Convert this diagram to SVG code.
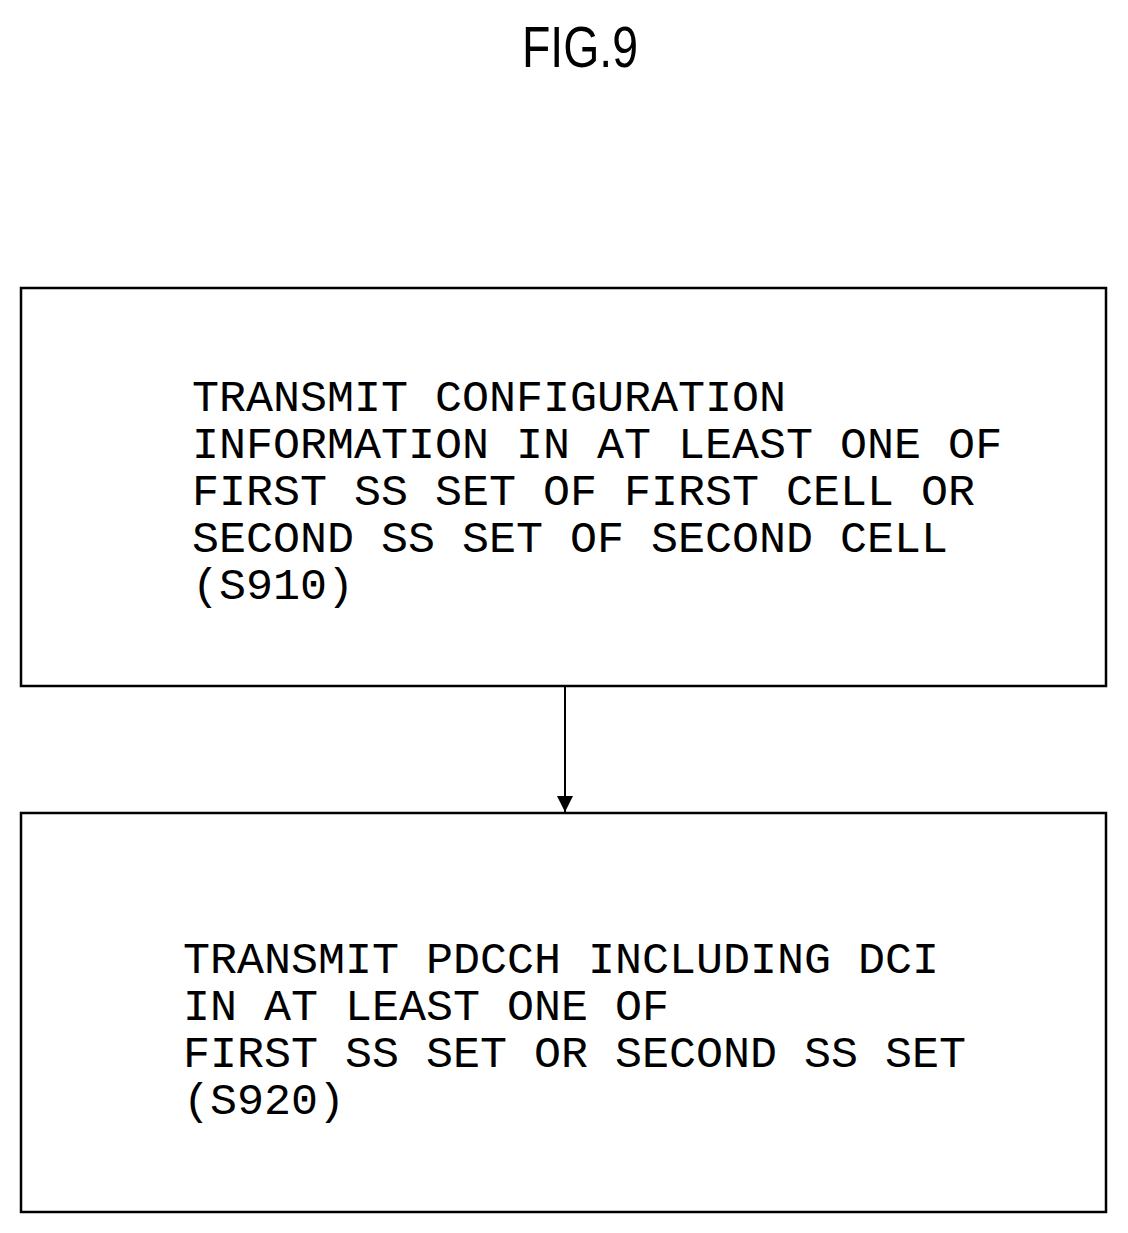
<svg xmlns="http://www.w3.org/2000/svg" width="1128" height="1233" viewBox="0 0 1128 1233">
<style>
.box{fill:#fff;stroke:#000;stroke-width:2.5}
.t{font-family:"Liberation Mono",monospace;font-size:45px;fill:#000}
.title{font-family:"Liberation Sans Narrow","Liberation Sans",sans-serif;font-size:58px;fill:#000}
</style>
<defs><marker id="ah" markerWidth="16" markerHeight="18" refX="16" refY="8" orient="auto" markerUnits="userSpaceOnUse" viewBox="0 0 16 16"><path d="M0,0 L16,8 L0,16 z" fill="#000"/></marker></defs>
<rect width="1128" height="1233" fill="#fff"/>
<text class="title" x="580" y="67" text-anchor="middle" transform="translate(580 0) scale(0.8 1) translate(-580 0)">FIG.9</text>
<g id="s910">
<rect class="box" x="21" y="288" width="1085" height="398"/>
<text class="t" x="192" y="411">TRANSMIT CONFIGURATION</text>
<text class="t" x="192" y="458">INFORMATION IN AT LEAST ONE OF</text>
<text class="t" x="192" y="505">FIRST SS SET OF FIRST CELL OR</text>
<text class="t" x="192" y="552">SECOND SS SET OF SECOND CELL</text>
<text class="t" x="192" y="599">(S910)</text>
</g>
<g id="s920">
<rect class="box" x="21" y="813" width="1085" height="399"/>
<text class="t" x="183" y="973">TRANSMIT PDCCH INCLUDING DCI</text>
<text class="t" x="183" y="1020">IN AT LEAST ONE OF</text>
<text class="t" x="183" y="1067">FIRST SS SET OR SECOND SS SET</text>
<text class="t" x="183" y="1114">(S920)</text>
</g>
<g id="connectors">
<line x1="565" y1="686" x2="565" y2="812" stroke="#000" stroke-width="2" marker-end="url(#ah)"/>
</g>
</svg>
